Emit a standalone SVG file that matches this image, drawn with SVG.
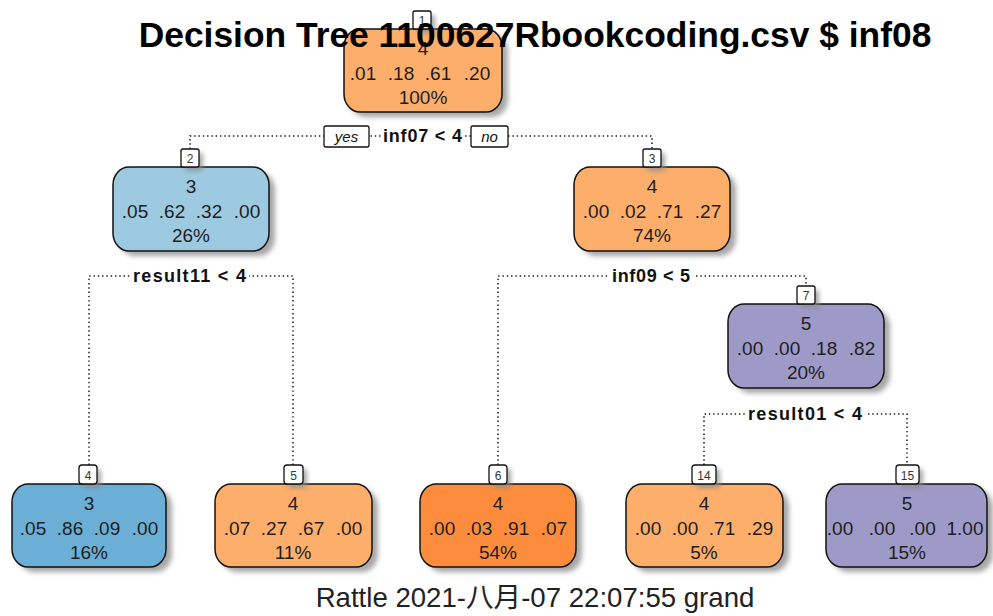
<svg xmlns="http://www.w3.org/2000/svg" width="993" height="616" viewBox="0 0 993 616">
  <defs>
    <filter id="soft" x="-20%" y="-20%" width="140%" height="140%">
      <feGaussianBlur stdDeviation="2.5"/>
    </filter>
    <style>
      .t { font-family: "Liberation Sans", Arial, sans-serif; font-size: 19px; fill: #1e1e1e; text-anchor: middle; }
      .num { font-size: 12px; fill: #333; }
      .split { font-weight: bold; font-size: 18px; fill: #111; }
      .yn { font-style: italic; font-size: 15px; fill: #111; }
      .box { stroke: #111; stroke-width: 1.5; }
      .lab { fill: #fff; stroke: #111; stroke-width: 1.3; }
      .shadow { fill: #8a8a8a; opacity: 0.75; filter: url(#soft); }
      .dot { fill: none; stroke: #1a1a1a; stroke-width: 1.5; stroke-dasharray: 1.4 2.9; }
      .orange { fill: #FDAE6B; }
      .dorange { fill: #FD8D3C; }
      .lblue { fill: #9ECAE1; }
      .blue { fill: #6BAED6; }
      .purple { fill: #9E9AC8; }
    </style>
  </defs>

  <rect width="993" height="616" fill="#fff"/>

  <!-- branches and split labels -->
  <g id="connectors">
    <!-- split at node 1 -->
    <path class="dot" d="M190,149 V136 H652 V149"/>
    <rect x="383" y="128" width="80" height="18" fill="#fff"/>
    <rect class="lab" x="324" y="126" width="45" height="21" rx="2"/>
    <rect class="lab" x="471" y="126" width="37" height="21" rx="2"/>
    <text class="t yn" x="346.5" y="142">yes</text>
    <text class="t yn" x="489.5" y="142">no</text>
    <text class="t split" x="422.5" y="142" textLength="79">inf07 &lt; 4</text>

    <!-- split at node 2 -->
    <path class="dot" d="M89,465 V276 H293 V465"/>
    <rect x="130" y="268" width="119" height="18" fill="#fff"/>
    <text class="t split" x="189.5" y="282" textLength="113">result11 &lt; 4</text>

    <!-- split at node 3 -->
    <path class="dot" d="M498,465 V276 H806 V286"/>
    <rect x="609" y="268" width="84" height="18" fill="#fff"/>
    <text class="t split" x="651" y="282" textLength="78">inf09 &lt; 5</text>

    <!-- split at node 7 -->
    <path class="dot" d="M704,465 V414 H907 V465"/>
    <rect x="745" y="406" width="120" height="18" fill="#fff"/>
    <text class="t split" x="805" y="420" textLength="114">result01 &lt; 4</text>
  </g>

  <g id="node1">
    <rect class="shadow" x="350" y="34" width="158" height="83" rx="16" ry="18"/>
    <rect class="box orange" x="344" y="29" width="158" height="83" rx="16" ry="18"/>
    <rect class="shadow" x="417" y="15" width="18" height="18" rx="2"/>
    <rect class="lab" x="413" y="11" width="18" height="18" rx="2"/>
    <text class="t num" x="422" y="25">1</text>
    <text class="t" x="423" y="55">4</text>
    <text class="t" x="363" y="80">.01</text>
    <text class="t" x="401" y="80">.18</text>
    <text class="t" x="438" y="80">.61</text>
    <text class="t" x="477" y="80">.20</text>
    <text class="t" x="423" y="104">100%</text>
  </g>

  <g id="node2">
    <rect class="shadow" x="119" y="172" width="156" height="84" rx="16" ry="18"/>
    <rect class="box lblue" x="113" y="167" width="156" height="84" rx="16" ry="18"/>
    <rect class="shadow" x="185" y="153" width="18" height="18" rx="2"/>
    <rect class="lab" x="181" y="149" width="18" height="18" rx="2"/>
    <text class="t num" x="190" y="163">2</text>
    <text class="t" x="191" y="193">3</text>
    <text class="t" x="135" y="217.5">.05</text>
    <text class="t" x="172" y="217.5">.62</text>
    <text class="t" x="209" y="217.5">.32</text>
    <text class="t" x="247" y="217.5">.00</text>
    <text class="t" x="191" y="242">26%</text>
  </g>

  <g id="node3">
    <rect class="shadow" x="580" y="172" width="156" height="84" rx="16" ry="18"/>
    <rect class="box orange" x="574" y="167" width="156" height="84" rx="16" ry="18"/>
    <rect class="shadow" x="647" y="153" width="18" height="18" rx="2"/>
    <rect class="lab" x="643" y="149" width="18" height="18" rx="2"/>
    <text class="t num" x="652" y="163">3</text>
    <text class="t" x="652" y="193">4</text>
    <text class="t" x="596" y="217.5">.00</text>
    <text class="t" x="633" y="217.5">.02</text>
    <text class="t" x="670" y="217.5">.71</text>
    <text class="t" x="708" y="217.5">.27</text>
    <text class="t" x="652" y="242">74%</text>
  </g>

  <g id="node7">
    <rect class="shadow" x="734" y="309" width="156" height="84" rx="16" ry="18"/>
    <rect class="box purple" x="728" y="304" width="156" height="84" rx="16" ry="18"/>
    <rect class="shadow" x="801" y="290" width="18" height="18" rx="2"/>
    <rect class="lab" x="797" y="286" width="18" height="18" rx="2"/>
    <text class="t num" x="806" y="300">7</text>
    <text class="t" x="806" y="330">5</text>
    <text class="t" x="750" y="354.5">.00</text>
    <text class="t" x="787" y="354.5">.00</text>
    <text class="t" x="824" y="354.5">.18</text>
    <text class="t" x="862" y="354.5">.82</text>
    <text class="t" x="806" y="379">20%</text>
  </g>

  <g id="node4">
    <rect class="shadow" x="18" y="489" width="154" height="83" rx="16" ry="18"/>
    <rect class="box blue" x="12" y="484" width="154" height="83" rx="16" ry="18"/>
    <rect class="shadow" x="83" y="469" width="18" height="19" rx="3"/>
    <rect class="lab" x="79" y="465" width="18" height="19" rx="3"/>
    <text class="t num" x="88" y="480">4</text>
    <text class="t" x="89" y="510">3</text>
    <text class="t" x="33" y="534.5">.05</text>
    <text class="t" x="70" y="534.5">.86</text>
    <text class="t" x="107" y="534.5">.09</text>
    <text class="t" x="145" y="534.5">.00</text>
    <text class="t" x="89" y="559">16%</text>
  </g>

  <g id="node5">
    <rect class="shadow" x="221" y="489" width="157" height="83" rx="16" ry="18"/>
    <rect class="box orange" x="215" y="484" width="157" height="83" rx="16" ry="18"/>
    <rect class="shadow" x="288" y="469" width="19" height="19" rx="3"/>
    <rect class="lab" x="284" y="465" width="19" height="19" rx="3"/>
    <text class="t num" x="293.5" y="480">5</text>
    <text class="t" x="293" y="510">4</text>
    <text class="t" x="237" y="534.5">.07</text>
    <text class="t" x="274" y="534.5">.27</text>
    <text class="t" x="311" y="534.5">.67</text>
    <text class="t" x="349" y="534.5">.00</text>
    <text class="t" x="293" y="559">11%</text>
  </g>

  <g id="node6">
    <rect class="shadow" x="426" y="489" width="156" height="83" rx="16" ry="18"/>
    <rect class="box dorange" x="420" y="484" width="156" height="83" rx="16" ry="18"/>
    <rect class="shadow" x="493" y="469" width="18" height="19" rx="3"/>
    <rect class="lab" x="489" y="465" width="18" height="19" rx="3"/>
    <text class="t num" x="498" y="480">6</text>
    <text class="t" x="498" y="510">4</text>
    <text class="t" x="442" y="534.5">.00</text>
    <text class="t" x="479" y="534.5">.03</text>
    <text class="t" x="516" y="534.5">.91</text>
    <text class="t" x="554" y="534.5">.07</text>
    <text class="t" x="498" y="559">54%</text>
  </g>

  <g id="node14">
    <rect class="shadow" x="632" y="489" width="157" height="83" rx="16" ry="18"/>
    <rect class="box orange" x="626" y="484" width="157" height="83" rx="16" ry="18"/>
    <rect class="shadow" x="696" y="469" width="24" height="19" rx="3"/>
    <rect class="lab" x="692" y="465" width="24" height="19" rx="3"/>
    <text class="t num" x="704" y="480">14</text>
    <text class="t" x="704" y="510">4</text>
    <text class="t" x="648" y="534.5">.00</text>
    <text class="t" x="685" y="534.5">.00</text>
    <text class="t" x="722" y="534.5">.71</text>
    <text class="t" x="760" y="534.5">.29</text>
    <text class="t" x="704" y="559">5%</text>
  </g>

  <g id="node15">
    <rect class="shadow" x="832" y="489" width="161" height="83" rx="16" ry="18"/>
    <rect class="box purple" x="826" y="484" width="161" height="83" rx="16" ry="18"/>
    <rect class="shadow" x="900" y="469" width="23" height="19" rx="3"/>
    <rect class="lab" x="896" y="465" width="23" height="19" rx="3"/>
    <text class="t num" x="907.5" y="480">15</text>
    <text class="t" x="907" y="510">5</text>
    <text class="t" x="840" y="534.5">.00</text>
    <text class="t" x="882" y="534.5">.00</text>
    <text class="t" x="922.5" y="534.5">.00</text>
    <text class="t" x="965" y="534.5">1.00</text>
    <text class="t" x="907" y="559">15%</text>
  </g>

  <!-- title and footer -->
  <text class="t" x="535" y="47" style="font-size:35.4px;font-weight:bold;fill:#000">Decision Tree 1100627Rbookcoding.csv $ inf08</text>
  <text class="t" x="535" y="607" style="font-family:'Liberation Sans','Noto Sans CJK SC',sans-serif;font-size:27.6px;fill:#222">Rattle 2021-八月-07 22:07:55 grand</text>
</svg>
